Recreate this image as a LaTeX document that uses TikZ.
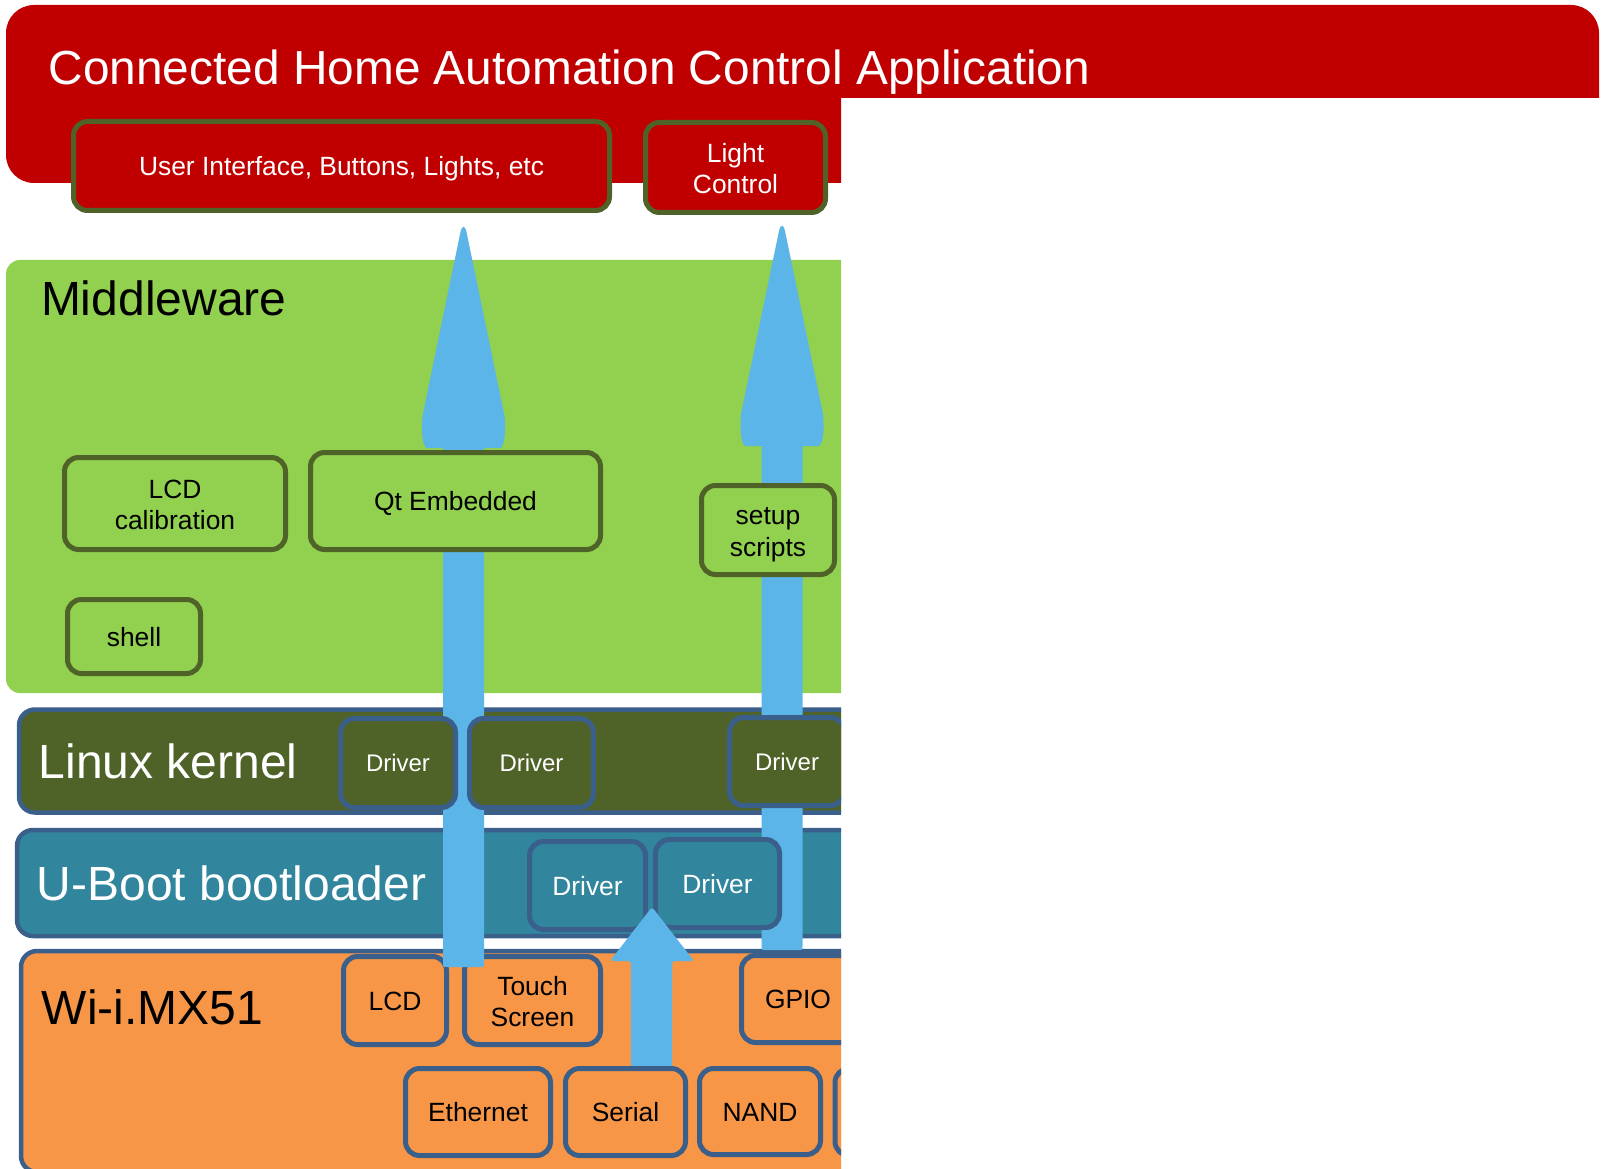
\documentclass[tikz,border=0pt]{standalone}
\usepackage{fontspec}
\setmainfont{Liberation Sans}
\definecolor{appred}{HTML}{C00000}
\definecolor{kolive}{HTML}{4F6228}
\definecolor{mwgreen}{HTML}{92D050}
\definecolor{bandblue}{HTML}{3A5F8B}
\definecolor{ubteal}{HTML}{31859C}
\definecolor{hworange}{HTML}{F79646}
\definecolor{arrowblue}{HTML}{5BB5E8}
\newcommand{\topstrut}{\rule{0pt}{0.95em}}
\newcommand{\tallstrut}{\rule{0pt}{1.02em}}
\newcommand{\botstrut}{\rule[-0.22em]{0pt}{0.22em}}
\tikzset{
  box/.style={draw, line width=5pt, rounded corners=14pt, align=center, inner sep=0pt,
    font=\fontsize{26.4}{31.5}\selectfont,
    execute at begin node=\topstrut, execute at end node=\botstrut},
  appbox/.style={box, draw=kolive, fill=appred, text=white},
  mwbox/.style={box, draw=kolive, fill=mwgreen, text=black},
  kbox/.style={box, draw=bandblue, fill=kolive, text=white, font=\fontsize{24}{29}\selectfont},
  ubox/.style={box, draw=bandblue, fill=ubteal, text=white},
  hwbox/.style={box, draw=bandblue, fill=hworange, text=black},
  band/.style={draw=bandblue, line width=4.5pt, rounded corners=16pt},
  layertitle/.style={anchor=base west, inner sep=0pt, font=\fontsize{48}{57}\selectfont},
  blockarrow/.style={fill=arrowblue, draw=none},
}
\newcommand{\tallarrow}[4]{% centre x, tip y, head base y, bottom y
  \fill[blockarrow] ({#1-20.5},{#4-4}) -- ({#1-20.5},{#3}) -- ({#1-37},{#3})
    .. controls ({#1-42},{#3-4}) and ({#1-42},{#3-20}) .. ({#1-41},{#3-32})
    -- ({#1-3},{#2+7}) .. controls ({#1-1.5},{#2}) and ({#1+1.5},{#2}) .. ({#1+3},{#2+7})
    -- ({#1+41},{#3-32}) .. controls ({#1+42},{#3-20}) and ({#1+42},{#3-4}) .. ({#1+37},{#3})
    -- ({#1+20.5},{#3}) -- ({#1+20.5},{#4-4}) .. controls ({#1+20.5},{#4}) .. ({#1+16.5},{#4})
    -- ({#1-16.5},{#4}) .. controls ({#1-20.5},{#4}) .. ({#1-20.5},{#4-4}) -- cycle;}
\begin{document}
\begin{tikzpicture}[x=1pt,y=-1pt]
\useasboundingbox (0,0) rectangle (1604,1169);
\begin{scope}
\clip (0,0) -- (1604,0) -- (1604,98) -- (841,98) -- (841,1169) -- (0,1169) -- cycle;
% application layer
\fill[appred, rounded corners=28pt] (6,5) rectangle (1599,183);
\node[anchor=base west, inner sep=0pt, text=white, font=\fontsize{47.8}{57}\selectfont] (title) at (48.5,85) {Connected Home Automation Control Application};
\node[appbox, minimum width=536pt, minimum height=89pt] (ui) at (341.5,166) {User Interface, Buttons, Lights, etc};
\node[appbox, minimum width=180pt, minimum height=90pt] (light) at (735.5,167.5) {\tallstrut Light\\Control};
% middleware layer
\fill[mwgreen, rounded corners=14pt] (6,260) rectangle (900,693);
\node[layertitle, text=black] (mwtitle) at (40.8,315) {Middleware};
% kernel, bootloader, hardware bands
\draw[band, fill=kolive] (19,709.5) rectangle (900,812.5);
\node[layertitle, text=white] (ktitle) at (38.6,778) {Linux kernel};
\draw[band, fill=ubteal] (17,830) rectangle (900,936);
\node[layertitle, text=white] (utitle) at (36.5,900) {U-Boot bootloader};
\draw[band, fill=hworange] (21,951) rectangle (900,1172);
\node[layertitle, text=black] (hwtitle) at (41.5,1024) {Wi-i.MX51};
% hardware boxes
\node[hwbox, minimum width=103pt, minimum height=88pt] (lcd) at (395,1000.5) {LCD};
\node[hwbox, minimum width=136pt, minimum height=88pt] (touch) at (532.5,1000.5) {\tallstrut Touch\\Screen};
\node[hwbox, minimum width=113pt, minimum height=87pt] (gpio) at (798,999) {GPIO};
\node[hwbox, minimum width=145pt, minimum height=87pt] (eth) at (478,1112) {Ethernet};
\node[hwbox, minimum width=121pt, minimum height=86pt] (nand) at (760,1111.5) {NAND};
\node[hwbox, minimum width=110pt, minimum height=87pt] (extra) at (890,1112) {};
% tall arrows
\tallarrow{463.5}{225}{448}{967}
\tallarrow{782}{224}{446}{950}
% middleware boxes
\node[mwbox, minimum width=221pt, minimum height=92pt] (lcdcal) at (175,503.5) {\tallstrut LCD\\calibration};
\node[mwbox, minimum width=290pt, minimum height=97pt] (qt) at (455.5,501) {Qt Embedded};
\node[mwbox, minimum width=133pt, minimum height=89pt] (setup) at (768,530) {\tallstrut setup\\scripts};
\node[mwbox, minimum width=133pt, minimum height=74pt] (shell) at (134,636.5) {shell};
% kernel drivers
\node[kbox, minimum width=115pt, minimum height=89pt] (kd1) at (398,763) {Driver};
\node[kbox, minimum width=124pt, minimum height=89pt] (kd2) at (531.5,763) {Driver};
\node[kbox, minimum width=115pt, minimum height=88pt] (kd3) at (787,761.5) {Driver};
% bootloader drivers
\node[ubox, minimum width=116pt, minimum height=88pt] (ud1) at (587.5,885.5) {Driver};
\node[ubox, minimum width=124pt, minimum height=88pt] (ud2) at (717.5,883.5) {Driver};
% small arrow from serial
\fill[blockarrow, rounded corners=3pt] (631,1070) -- (631,961) -- (610,961) -- (652,907) -- (694,961) -- (672,961) -- (672,1070) -- cycle;
\node[hwbox, minimum width=120pt, minimum height=87pt] (serial) at (625.5,1112) {Serial};
\end{scope}
\end{tikzpicture}
\end{document}
